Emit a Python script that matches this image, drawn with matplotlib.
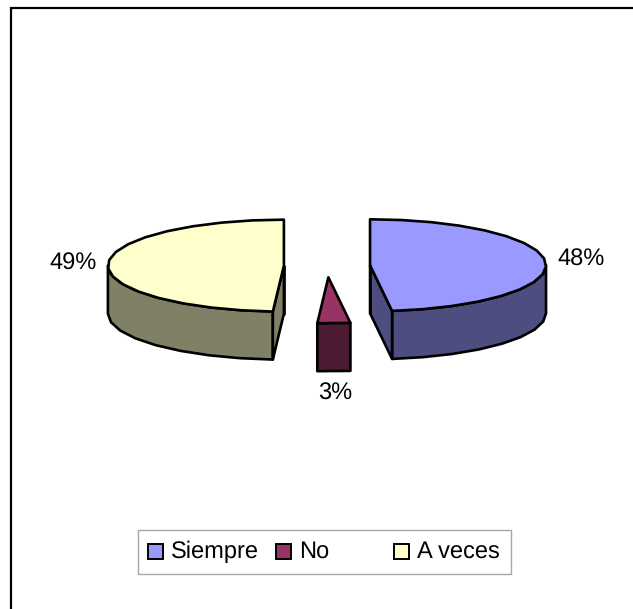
import numpy as np
import matplotlib
matplotlib.use('Agg')
import matplotlib.pyplot as plt
from matplotlib.patches import Polygon, Rectangle

plt.rcParams['font.family'] = ['Liberation Sans', 'DejaVu Sans']
plt.rcParams['text.hinting'] = 'none'

labels = ['Siempre', 'No', 'A veces']
values = [48, 3, 49]
top_colors = ['#9999ff', '#993366', '#ffffcc']
side_colors = ['#4d4d80', '#4d1a33', '#808066']

# pie geometry, in pixels of the picture
cx, cy = 327, 266
rx, ry = 176, 46
depth = 48
explode = 0.245


def rim(a0, a1, x0, y0, drop=0, step=10):
    # angles are clockwise from north, in degrees
    n = max(2, int(abs(a1 - a0) / step) + 1)
    ang = np.radians(np.linspace(a0, a1, n))
    return np.column_stack([x0 + rx * np.sin(ang), y0 - ry * np.cos(ang) + drop])


fig = plt.figure(figsize=(6.33, 6.09), dpi=100)
ax = fig.add_axes([0, 0, 1, 1])
ax.set_xlim(0, 633)
ax.set_ylim(609, 0)
ax.axis('off')

# chart frame: only the top and left edges fall inside the picture
ax.plot([10.5, 10.5, 633], [609, 8, 8], color='black', lw=1.6, solid_joinstyle='miter')

lw = 1.9
start = 0
# baseline of each percent label
label_pos = [(581, 266), (335, 400), (73, 270)]
for i, v in enumerate(values):
    sweep = v * 3.6
    end = start + sweep
    mid = np.radians(start + sweep / 2)
    x0 = cx + explode * rx * np.sin(mid)
    y0 = cy - explode * ry * np.cos(mid)

    # visible part of the outer wall lies in the front half
    a0, a1 = max(start, 90), min(end, 270)
    top = rim(a0, a1, x0, y0)
    bottom = rim(a0, a1, x0, y0, depth)
    ax.add_patch(Polygon(np.vstack([top, bottom[::-1]]), fc=side_colors[i], ec='black', lw=lw, joinstyle='round'))

    # radial cut faces
    if end < 180 or start > 180:
        edge = end if end < 180 else start
        p = rim(edge, edge, x0, y0)[0]
        face = [(x0, y0), p, (p[0], p[1] + depth), (x0, y0 + depth)]
        ax.add_patch(Polygon(face, fc=side_colors[i], ec='black', lw=lw, joinstyle='round'))
    if start == 0 or end == 360:
        ax.plot([x0, x0], [y0, y0 + depth], color='black', lw=lw, solid_capstyle='round')

    ax.add_patch(Polygon(np.vstack([[x0, y0], rim(start, end, x0, y0)]), fc=top_colors[i], ec='black', lw=lw, joinstyle='round'))

    ax.text(*label_pos[i], f'{v}%', fontsize=17, ha='center', va='baseline', color='black')
    start = end

# legend box, drawn by hand because its columns are unevenly spaced
ax.add_patch(Rectangle((138, 530), 373, 44, fc='white', ec='#a6a6a6', lw=1.0))
swatch_x = [148, 276, 394]
text_x = [171, 299, 417]
for i, name in enumerate(labels):
    ax.add_patch(Rectangle((swatch_x[i], 544), 15, 15, fc=top_colors[i], ec='black', lw=1.4))
    ax.text(text_x[i], 558, name, fontsize=17, ha='left', va='baseline', color='black')

fig.savefig('out.png', dpi=100)
